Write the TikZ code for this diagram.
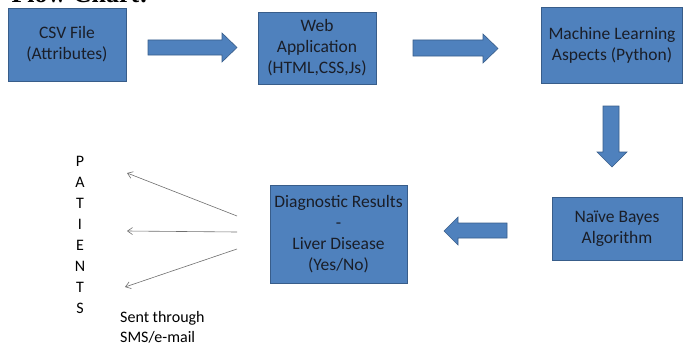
\documentclass[tikz,border=0pt]{standalone}
\usepackage{fontspec}
\setmainfont{Carlito}
\newfontfamily\titlefont{Liberation Serif}
\definecolor{boxblue}{RGB}{79,129,189}
\definecolor{boxline}{RGB}{56,93,138}
\definecolor{inktext}{RGB}{26,30,40}
\definecolor{thinline}{RGB}{110,110,110}
\usetikzlibrary{arrows.meta}

\begin{document}
\begin{tikzpicture}[x=1pt, y=-1pt,
    box/.style={draw=boxline, fill=boxblue, line width=0.8pt, align=center, text=inktext,
      font=\fontsize{17.5}{21}\selectfont, inner sep=2pt},
    blockarrow/.style={draw=boxline, fill=boxblue, line width=0.6pt, line join=miter},
    sendline/.style={draw=thinline, line width=0.6pt, -{Straight Barb[length=5pt,width=7pt]}}]
      \useasboundingbox (0,0) rectangle (684,345);
      \clip (0,0) rectangle (684,345);
      \node[anchor=base west, font=\titlefont\bfseries\fontsize{26}{30}\selectfont] (title) at (8,2.5) {Flow Chart:};
      % boxes
      \node[box, minimum width=118pt, minimum height=73pt] (csv) at (67,44.5) {CSV File\\(Attributes)};
      \node[box, minimum width=118pt, minimum height=72pt] (web) at (317,48) {Web\\Application\\(HTML,CSS,Js)};
      \node[box, minimum width=141pt, minimum height=76pt] (ml) at (612,45) {Machine Learning\\Aspects (Python)};
      \node[box, minimum width=130pt, minimum height=63pt] (naive) at (617,228.5) {Naïve Bayes\\Algorithm};
      \node[box, minimum width=137pt, minimum height=98pt] (diag) at (338.5,234) {Diagnostic Results\\-\\Liver Disease\\(Yes/No)};
      % block arrows
      \draw[blockarrow] (148,40) -- (222,40) -- (222,33) -- (237,47.5) -- (222,62) -- (222,55) -- (148,55) -- cycle;
      \draw[blockarrow] (413,40) -- (483,40) -- (483,34) -- (498,48.5) -- (483,63) -- (483,56) -- (413,56) -- cycle;
      \draw[blockarrow] (603,106) -- (603,152) -- (597,152) -- (612,167) -- (627,152) -- (619,152) -- (619,106) -- cycle;
      \draw[blockarrow] (507,223) -- (458,223) -- (458,217) -- (444,231) -- (458,245) -- (458,238) -- (507,238) -- cycle;
      % patients
      \node[align=center, font=\fontsize{16}{21}\selectfont, inner sep=0pt] (patients) at (80,234.5) {P\\A\\T\\I\\E\\N\\T\\S};
      \node[anchor=west, align=left, font=\fontsize{16}{20}\selectfont, inner sep=0pt] (sent) at (120,327) {Sent through\\SMS/e-mail};
      \coordinate (s1) at (237,216); \coordinate (e1) at (127,173);
      \coordinate (s2) at (237,232); \coordinate (e2) at (127,231);
      \coordinate (s3) at (237,249); \coordinate (e3) at (125,287);
      \draw[sendline] (s1) -- (e1);
      \draw[sendline] (s2) -- (e2);
      \draw[sendline] (s3) -- (e3);
    \end{tikzpicture}
\end{document}
